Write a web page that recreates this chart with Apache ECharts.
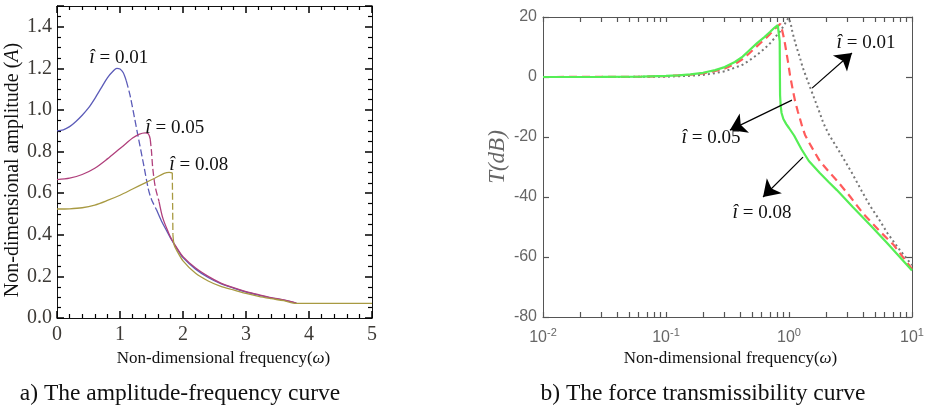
<!DOCTYPE html>
<html>
<head>
<meta charset="utf-8">
<script src="https://cdn.jsdelivr.net/npm/echarts@6/dist/echarts.min.js"></script>
<style>
  html, body { margin: 0; padding: 0; background: #fff; }
  #chart { width: 927px; height: 408px; }
</style>
</head>
<body>
<div id="chart"></div>
<script>
// ---------- (a) amplitude-frequency curves: [omega, A] ----------
// î = 0.01
const ampRise001 = [[0,0.90],[0.1,0.905],[0.2,0.92],[0.3,0.945],[0.4,0.975],[0.5,1.01],[0.6,1.055],[0.7,1.105],[0.8,1.155],[0.9,1.19],[0.95,1.20],[1.0,1.197],[1.05,1.18],[1.1,1.14]];
const ampJump001 = [[1.1,1.14],[1.16,1.07],[1.27,0.90],[1.38,0.73],[1.45,0.62],[1.5,0.57],[1.58,0.52]];
const ampTail001 = [[1.58,0.52],[1.66,0.465],[1.74,0.42],[1.82,0.375],[1.9,0.335],[2.0,0.29],[2.2,0.235],[2.4,0.195],[2.6,0.165],[2.8,0.144],[3.0,0.125],[3.2,0.11],[3.4,0.097],[3.6,0.086],[3.8,0.072]];
// î = 0.05
const ampRise005 = [[0,0.665],[0.2,0.672],[0.4,0.69],[0.6,0.72],[0.8,0.765],[1.0,0.815],[1.1,0.84],[1.2,0.865],[1.3,0.883],[1.4,0.89],[1.45,0.885],[1.48,0.86]];
const ampJump005 = [[1.48,0.86],[1.5,0.80],[1.52,0.72],[1.56,0.63],[1.62,0.56]];
const ampTail005 = [[1.62,0.56],[1.68,0.48],[1.77,0.41],[1.82,0.378],[1.9,0.338],[2.0,0.295],[2.2,0.24],[2.4,0.2],[2.6,0.168],[2.8,0.146],[3.0,0.127],[3.2,0.112],[3.4,0.098],[3.6,0.087],[3.8,0.072]];
// î = 0.08
const ampRise008 = [[0,0.524],[0.2,0.525],[0.4,0.53],[0.6,0.543],[0.8,0.565],[1.0,0.59],[1.2,0.62],[1.4,0.65],[1.55,0.672],[1.7,0.695],[1.78,0.70],[1.83,0.698]];
const ampJump008 = [[1.83,0.698],[1.835,0.55],[1.84,0.40]];
const ampTail008 = [[1.84,0.40],[1.86,0.35],[1.9,0.325],[2.0,0.275],[2.2,0.215],[2.4,0.178],[2.6,0.152],[2.8,0.135],[3.0,0.118],[3.2,0.104],[3.4,0.093],[3.6,0.083],[3.8,0.07],[4.2,0.07],[5.0,0.07]];

// ---------- (b) force transmissibility: [omega, T(dB)] ----------
const trans001 = [[0.01,0],[0.03,0.02],[0.063,0.05],[0.1,0.1],[0.158,0.4],[0.2,0.7],[0.251,1.3],[0.3,1.9],[0.363,3.1],[0.42,4.1],[0.479,5.6],[0.55,7.4],[0.631,9.4],[0.7,11.2],[0.76,12.9],[0.85,15.3],[0.92,17.5],[0.96,18.8],[0.99,19.7],[1.03,18],[1.07,14.7],[1.15,10],[1.23,6.3],[1.29,3.3],[1.38,0],[1.48,-3.3],[1.6,-7],[1.78,-12],[1.9,-15.3],[2.1,-19],[2.45,-23.5],[2.9,-28.5],[3.3,-32.5],[3.9,-38],[4.57,-43],[5.4,-47.5],[6.3,-52],[7.9,-57.5],[10,-62.7]];
const trans005 = [[0.01,0],[0.03,0.03],[0.063,0.1],[0.1,0.3],[0.158,0.75],[0.2,1.2],[0.251,2.0],[0.3,2.8],[0.363,4.3],[0.42,6.0],[0.479,8.0],[0.55,10.3],[0.631,12.5],[0.7,14.3],[0.76,15.9],[0.81,16.9],[0.85,17.7],[0.87,16.3],[0.89,14.7],[0.92,12],[0.95,8.5],[0.98,5.2],[1.02,0.5],[1.07,-4],[1.12,-8],[1.18,-11.5],[1.23,-14],[1.29,-17],[1.35,-19.3],[1.45,-21.7],[1.55,-23.8],[1.78,-28],[2.1,-31.5],[2.45,-34.5],[3.16,-40],[4.0,-45.5],[5.5,-51.5],[7.1,-56],[10,-64]];
const trans008 = [[0.01,0],[0.03,0.03],[0.063,0.15],[0.1,0.35],[0.126,0.55],[0.158,0.85],[0.2,1.4],[0.251,2.3],[0.3,3.3],[0.363,5.0],[0.42,6.8],[0.479,9.0],[0.55,11.3],[0.631,13.3],[0.7,15.0],[0.76,16.4],[0.81,17.3],[0.835,17.8],[0.84,12],[0.843,2],[0.846,-6],[0.855,-9.5],[0.87,-12],[0.9,-14],[0.95,-15.7],[1.0,-17],[1.1,-19.5],[1.26,-24],[1.45,-28],[1.78,-32],[2.1,-35],[2.45,-37.7],[3.3,-43.3],[4.57,-49.3],[6.3,-55.4],[10,-64.5]];

// ---------- axis ticks & labels ----------
const ampXTicks = [0, 5, 1];          // min, max, interval
const ampYTicks = [0, 1.5, 0.2];
const transYTicks = [-80, 20, 20];
const transXDecades = [0.01, 0.1, 1, 10];
const transXMinor = [0.01,0.02,0.03,0.04,0.05,0.06,0.07,0.08,0.09,
                     0.1,0.2,0.3,0.4,0.5,0.6,0.7,0.8,0.9,
                     1,2,3,4,5,6,7,8,9,10];

// ---------- annotations ----------
const ampLabels = [
  { text: '0.01', at: [0.98, 1.25] },
  { text: '0.05', at: [1.87, 0.913] },
  { text: '0.08', at: [2.25, 0.735] }
];
const transLabels = [
  { text: '0.01', at: [4.23, 11.3] },
  { text: '0.05', at: [0.232, -20.3] },
  { text: '0.08', at: [0.603, -45.3] }
];
const transArrows = [
  [[1.54, -3.7], [3.25, 8]],
  [[1.057, -7.7], [0.331, -17.7]],
  [[1.30, -26.7], [0.615, -40]]
];
const captions = ['a) The amplitude-frequency curve', 'b) The force transmissibility curve'];

const SERIF = 'Liberation Serif';
const SANS = 'Liberation Sans';
const LEFT_LABEL = '#3d3a36';
const RIGHT_LABEL = '#666';

const hatRich = {
  i: { fontFamily: SERIF, fontStyle: 'italic', fontSize: 20, color: '#111' },
  n: { fontFamily: SERIF, fontSize: 19, color: '#111' }
};
function hatLabel(t) { return '{i|\u00ee}{n| = ' + t + '}'; }

function labelPoints(list) {
  return {
    silent: true,
    symbol: 'circle',
    symbolSize: 1,
    itemStyle: { color: 'rgba(0,0,0,0)' },
    label: { show: true, position: 'inside', rich: hatRich },
    data: list.map(l => ({ coord: l.at, label: { formatter: hatLabel(l.text) } }))
  };
}

function ampLine(data, color, dashed) {
  return {
    type: 'line', xAxisIndex: 0, yAxisIndex: 0, data: data,
    showSymbol: false, smooth: 0.3,
    lineStyle: { color: color, width: 1.3, type: dashed ? [7, 3] : 'solid' },
    silent: true, z: 3
  };
}

const C1 = '#5b5bb8', C2 = '#b0407c', C3 = '#a89a42';

const series = [
  ampLine(ampRise001, C1, false), ampLine(ampJump001, C1, true), ampLine(ampTail001, C1, false),
  ampLine(ampRise005, C2, false), ampLine(ampJump005, C2, true), ampLine(ampTail005, C2, false),
  ampLine(ampRise008, C3, false), ampLine(ampJump008, C3, true), ampLine(ampTail008, C3, false)
];
series[0].markPoint = labelPoints(ampLabels);

series.push({
  type: 'line', xAxisIndex: 2, yAxisIndex: 2, data: trans001, showSymbol: false,
  smooth: false, silent: true,
  lineStyle: { color: '#777', width: 2, type: [2, 3] }, z: 2,
  markLine: {
    silent: true, symbol: ['none', 'arrow'], symbolSize: 16,
    label: { show: false },
    lineStyle: { color: '#000', width: 1.2, type: 'solid' },
    data: transArrows.map(a => [{ coord: a[0] }, { coord: a[1] }])
  },
  markPoint: labelPoints(transLabels)
});
series.push({
  type: 'line', xAxisIndex: 2, yAxisIndex: 2, data: trans005, showSymbol: false,
  smooth: false, silent: true,
  lineStyle: { color: '#ff5b5b', width: 2.2, type: [8, 5] }, z: 3
});
series.push({
  type: 'line', xAxisIndex: 2, yAxisIndex: 2, data: trans008, showSymbol: false,
  smooth: false, silent: true,
  lineStyle: { color: '#55ee55', width: 2.2 }, z: 4
});

function supLabel(v) {
  const e = Math.round(Math.log10(v));
  return '{b|10}{s|' + e + '}';
}

// tick/line style builders (fresh objects for every axis)
function ampLineStyle() { return { show: true, onZero: false, lineStyle: { color: '#111', width: 1 } }; }
function transLineStyle() { return { show: true, onZero: false, lineStyle: { color: '#555', width: 1 } }; }
function ampMajor() { return { show: true, inside: true, length: 7, lineStyle: { color: '#000', width: 1.5 } }; }
function ampMinor(n) { return { show: true, splitNumber: n, length: 4, lineStyle: { color: '#000', width: 1.2 } }; }
function transTickX() { return { show: true, inside: true, length: 5, lineStyle: { color: '#555', width: 1.2 }, customValues: transXMinor }; }
function transTickY() { return { show: true, inside: true, length: 6, lineStyle: { color: '#555', width: 1.2 } }; }
const ampTickText = { t: { fontFamily: SERIF, fontSize: 20, color: LEFT_LABEL } };
const transTickText = { t: { fontFamily: SANS, fontSize: 16, color: RIGHT_LABEL } };

const option = {
  animation: false,
  backgroundColor: '#fff',
  grid: [
    { left: 57, top: 6, width: 315, height: 312 },
    { left: 543, top: 17, width: 369, height: 300 }
  ],
  xAxis: [
    {
      type: 'value', gridIndex: 0, position: 'bottom',
      min: ampXTicks[0], max: ampXTicks[1], interval: ampXTicks[2],
      axisLine: ampLineStyle(), axisTick: ampMajor(), minorTick: ampMinor(5),
      splitLine: { show: false },
      axisLabel: { margin: 7, fontFamily: SERIF, formatter: v => '{t|' + v + '}', rich: ampTickText },
      name: 'Non-dimensional frequency({w|\u03c9})', nameLocation: 'middle', nameGap: 26,
      nameTextStyle: { fontFamily: SERIF, fontSize: 17, color: '#111', padding: [0, 0, 0, 18],
        rich: { w: { fontFamily: SERIF, fontStyle: 'italic', fontSize: 17, color: '#111' } } }
    },
    {
      type: 'value', gridIndex: 0, position: 'top',
      min: ampXTicks[0], max: ampXTicks[1], interval: ampXTicks[2],
      axisLine: ampLineStyle(), axisTick: ampMajor(), minorTick: ampMinor(5),
      splitLine: { show: false }, axisLabel: { show: false }
    },
    {
      type: 'log', logBase: 10, gridIndex: 1, position: 'bottom', min: 0.01, max: 10,
      axisLine: transLineStyle(), axisTick: transTickX(),
      minorTick: { show: false },
      splitLine: { show: false },
      axisLabel: {
        customValues: transXDecades, formatter: supLabel, margin: 10,
        rich: {
          b: { fontFamily: SANS, fontSize: 16, color: RIGHT_LABEL },
          s: { fontFamily: SANS, fontSize: 11, color: RIGHT_LABEL, padding: [0, 0, 10, 0] }
        }
      },
      name: 'Non-dimensional frequency({w|\u03c9})', nameLocation: 'middle', nameGap: 28,
      nameTextStyle: { fontFamily: SERIF, fontSize: 17, color: '#111', padding: [0, 0, 0, 6],
        rich: { w: { fontFamily: SERIF, fontStyle: 'italic', fontSize: 17, color: '#111' } } }
    },
    {
      type: 'log', logBase: 10, gridIndex: 1, position: 'top', min: 0.01, max: 10,
      axisLine: transLineStyle(), axisTick: transTickX(),
      minorTick: { show: false },
      splitLine: { show: false }, axisLabel: { show: false }
    }
  ],
  yAxis: [
    {
      type: 'value', gridIndex: 0, position: 'left',
      min: ampYTicks[0], max: ampYTicks[1], interval: ampYTicks[2],
      axisLine: ampLineStyle(), axisTick: ampMajor(), minorTick: ampMinor(4),
      splitLine: { show: false },
      axisLabel: { margin: 5, showMaxLabel: false, fontFamily: SERIF,
        formatter: v => '{t|' + v.toFixed(1) + '}', rich: ampTickText },
      name: 'Non-dimensional amplitude ({a|A})', nameLocation: 'middle', nameGap: 33,
      nameTextStyle: { fontFamily: SERIF, fontSize: 20, color: '#111', padding: [0, 16, 0, 0],
        rich: { a: { fontFamily: SERIF, fontStyle: 'italic', fontSize: 20, color: '#111' } } }
    },
    {
      type: 'value', gridIndex: 0, position: 'right',
      min: ampYTicks[0], max: ampYTicks[1], interval: ampYTicks[2],
      axisLine: ampLineStyle(), axisTick: ampMajor(), minorTick: ampMinor(4),
      splitLine: { show: false }, axisLabel: { show: false }
    },
    {
      type: 'value', gridIndex: 1, position: 'left',
      min: transYTicks[0], max: transYTicks[1], interval: transYTicks[2],
      axisLine: transLineStyle(), axisTick: transTickY(),
      splitLine: { show: false },
      axisLabel: { margin: 6, formatter: v => '{t|' + v + '}', rich: transTickText },
      name: 'T(dB)', nameLocation: 'middle', nameGap: 34,
      nameTextStyle: { fontFamily: SERIF, fontStyle: 'italic', fontSize: 23, color: '#666',
        padding: [0, 0, 0, 20] }
    },
    {
      type: 'value', gridIndex: 1, position: 'right',
      min: transYTicks[0], max: transYTicks[1], interval: transYTicks[2],
      axisLine: transLineStyle(), axisTick: transTickY(),
      splitLine: { show: false }, axisLabel: { show: false }
    }
  ],
  graphic: [
    { type: 'text', x: 180, y: 394, silent: true,
      style: { text: captions[0], fontFamily: SERIF, fontSize: 23.5,
        fill: '#111', align: 'center', verticalAlign: 'middle' } },
    { type: 'text', x: 703, y: 394, silent: true,
      style: { text: captions[1], fontFamily: SERIF, fontSize: 23.5,
        fill: '#111', align: 'center', verticalAlign: 'middle' } }
  ],
  series: series
};

const chart = echarts.init(document.getElementById('chart'), null, { renderer: 'canvas' });
chart.setOption(option);
</script>
</body>
</html>
